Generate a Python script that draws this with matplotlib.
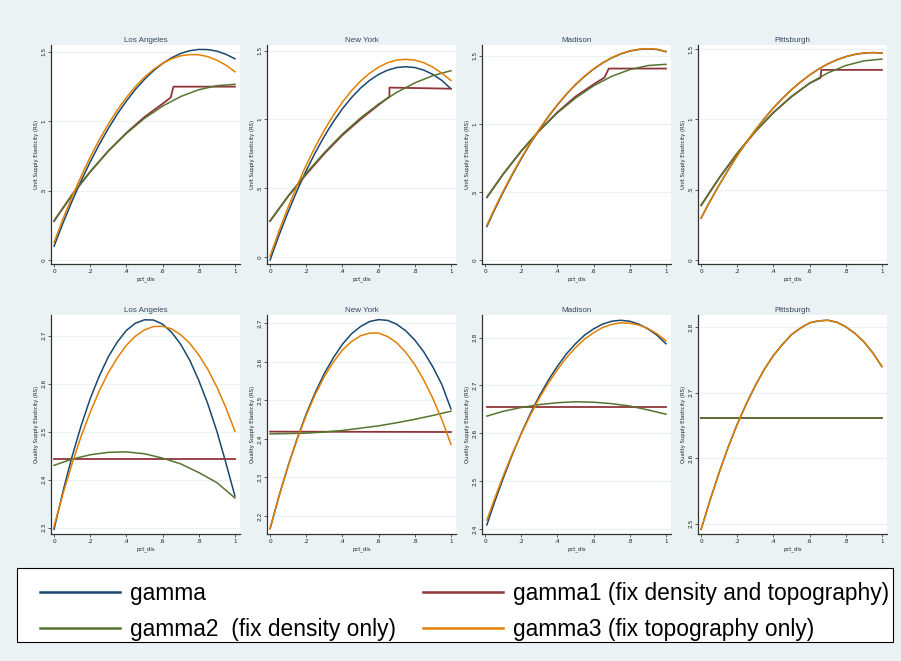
import numpy as np
import matplotlib.pyplot as plt
from matplotlib.lines import Line2D
from matplotlib.patches import Rectangle

# pct_dis grids
x_pts = [0, .1, .2, .3, .4, .5, .6, .7, .8, .9, 1]
x_mad = [.01, .1, .2, .3, .4, .5, .6, .7, .8, .9, 1]
x_fine = [0, .05, .1, .15, .2, .25, .3, .35, .4, .45, .5,
          .55, .6, .65, .7, .75, .8, .85, .9, .95, 1]
x_fine_mad = [.01, .05, .1, .15, .2, .25, .3, .35, .4, .45, .5,
              .55, .6, .65, .7, .75, .8, .85, .9, .95, 1]

# ---- top row: Unit Supply Elasticity ----
la_u_gamma  = [0.100, 0.268, 0.425, 0.571, 0.707, 0.832, 0.947, 1.052, 1.145, 1.229, 1.301,
               1.363, 1.415, 1.456, 1.487, 1.507, 1.516, 1.515, 1.504, 1.481, 1.449]
la_u_gamma3 = [0.127, 0.298, 0.457, 0.604, 0.741, 0.865, 0.978, 1.080, 1.170, 1.249, 1.316,
               1.372, 1.416, 1.449, 1.470, 1.479, 1.478, 1.464, 1.439, 1.403, 1.355]
la_u_gamma2 = [0.283, 0.470, 0.637, 0.784, 0.911, 1.020, 1.108, 1.177, 1.226, 1.255, 1.265]
la_u_x1     = [0, .1, .2, .3, .4, .5, .6, .645, .66, .8, 1]
la_u_gamma1 = [0.28, 0.47, 0.635, 0.785, 0.915, 1.03, 1.125, 1.17, 1.248, 1.248, 1.248]

ny_u_gamma  = [-0.024, 0.158, 0.327, 0.483, 0.627, 0.758, 0.877, 0.983, 1.077, 1.158, 1.227,
               1.283, 1.327, 1.358, 1.377, 1.383, 1.377, 1.358, 1.327, 1.283, 1.222]
ny_u_gamma3 = [0.005, 0.190, 0.361, 0.520, 0.667, 0.801, 0.921, 1.030, 1.125, 1.208, 1.278,
               1.335, 1.380, 1.412, 1.431, 1.437, 1.431, 1.412, 1.380, 1.335, 1.283]
ny_u_gamma2 = [0.260, 0.442, 0.608, 0.758, 0.893, 1.010, 1.111, 1.196, 1.265, 1.318, 1.354]
ny_u_x1     = [0, .1, .2, .3, .4, .5, .6, .66, .66, 1]
ny_u_gamma1 = [0.26, 0.44, 0.60, 0.75, 0.885, 1.0, 1.105, 1.165, 1.231, 1.223]

md_u_gamma  = [0.246, 0.361, 0.497, 0.624, 0.743, 0.855, 0.957, 1.052, 1.139, 1.217, 1.287,
               1.348, 1.402, 1.447, 1.484, 1.513, 1.534, 1.546, 1.550, 1.546, 1.530]
md_u_gamma3 = [0.256, 0.370, 0.505, 0.631, 0.749, 0.860, 0.961, 1.055, 1.141, 1.219, 1.289,
               1.350, 1.404, 1.449, 1.486, 1.515, 1.536, 1.548, 1.552, 1.548, 1.532]
md_u_gamma2 = [0.460, 0.630, 0.800, 0.950, 1.080, 1.189, 1.279, 1.349, 1.398, 1.428, 1.437]
md_u_x1     = [.01, .1, .2, .3, .4, .5, .6, .66, .684, 1]
md_u_gamma1 = [0.46, 0.63, 0.80, 0.95, 1.085, 1.20, 1.29, 1.34, 1.406, 1.406]

pt_u_gamma  = [0.298, 0.419, 0.533, 0.640, 0.742, 0.836, 0.924, 1.006, 1.081, 1.149, 1.211,
               1.266, 1.315, 1.358, 1.394, 1.423, 1.446, 1.462, 1.472, 1.475, 1.472]
pt_u_gamma3 = pt_u_gamma
pt_u_gamma2 = [0.388, 0.583, 0.758, 0.914, 1.048, 1.162, 1.257, 1.330, 1.383, 1.416, 1.429]
pt_u_x1     = [0, .1, .2, .3, .4, .5, .6, .66, .665, 1]
pt_u_gamma1 = [0.388, 0.583, 0.758, 0.914, 1.048, 1.162, 1.257, 1.295, 1.352, 1.352]

# ---- bottom row: Quality Supply Elasticity ----
la_q_gamma  = [2.297, 2.377, 2.449, 2.513, 2.569, 2.616, 2.656, 2.687, 2.711, 2.726, 2.733,
               2.7325, 2.724, 2.707, 2.682, 2.649, 2.607, 2.558, 2.501, 2.435, 2.366]
la_q_gamma3 = [2.303, 2.372, 2.434, 2.491, 2.541, 2.585, 2.623, 2.654, 2.680, 2.699, 2.712,
               2.719, 2.7195, 2.714, 2.702, 2.684, 2.660, 2.630, 2.593, 2.550, 2.501]
la_q_gamma2 = [2.430, 2.443, 2.452, 2.457, 2.458, 2.454, 2.445, 2.433, 2.415, 2.394, 2.362]
la_q_gamma1 = [2.444, 2.444]

ny_q_gamma  = [2.167, 2.2525, 2.3305, 2.401, 2.465, 2.521, 2.570, 2.611, 2.646, 2.673, 2.692,
               2.705, 2.710, 2.708, 2.698, 2.681, 2.657, 2.626, 2.587, 2.541, 2.478]
ny_q_gamma3 = [2.167, 2.252, 2.330, 2.400, 2.4615, 2.516, 2.562, 2.600, 2.631, 2.653, 2.668,
               2.675, 2.675, 2.666, 2.650, 2.625, 2.593, 2.553, 2.505, 2.450, 2.386]
ny_q_gamma2 = [2.413, 2.414, 2.415, 2.418, 2.422, 2.428, 2.434, 2.442, 2.451, 2.461, 2.472]
ny_q_gamma1 = [2.419, 2.418]

md_q_gamma  = [2.409, 2.454, 2.506, 2.555, 2.600, 2.641, 2.678, 2.711, 2.740, 2.766, 2.787,
               2.805, 2.818, 2.828, 2.834, 2.836, 2.834, 2.828, 2.818, 2.805, 2.787]
md_q_gamma3 = [2.419, 2.461, 2.511, 2.557, 2.599, 2.638, 2.6735, 2.705, 2.733, 2.758, 2.779,
               2.7965, 2.810, 2.821, 2.8275, 2.8307, 2.830, 2.826, 2.819, 2.808, 2.793]
md_q_gamma2 = [2.636, 2.646, 2.654, 2.660, 2.664, 2.666, 2.665, 2.662, 2.657, 2.649, 2.640]
md_q_gamma1 = [2.656, 2.656]

pt_q_gamma  = [2.491, 2.536, 2.578, 2.617, 2.652, 2.683, 2.711, 2.736, 2.757, 2.774, 2.789,
               2.799, 2.807, 2.810, 2.811, 2.808, 2.801, 2.791, 2.778, 2.761, 2.740]
pt_q_gamma3 = pt_q_gamma
pt_q_gamma2 = [2.661, 2.661]
pt_q_gamma1 = [2.661, 2.661]

cities = ['Los Angeles', 'New York', 'Madison', 'Pittsburgh']
labels = ['gamma', 'gamma1 (fix density and topography)',
          'gamma2  (fix density only)', 'gamma3 (fix topography only)']

C_NAVY = '#1a476f'
C_MAROON = '#90353b'
C_GREEN = '#55752f'
C_ORANGE = '#e37e00'
BG = '#eaf2f3'

W, H = 901, 661
fig = plt.figure(figsize=(W / 100, H / 100), dpi=100, facecolor=BG)

def px_axes(l, t, r, b):
    return fig.add_axes([l / W, 1 - b / H, (r - l) / W, (b - t) / H])

lefts = [51, 267, 482, 698]
width = 189

top_panels = [
    (x_fine, la_u_gamma, la_u_x1, la_u_gamma1, x_pts, la_u_gamma2, x_fine, la_u_gamma3, (-0.029, 1.548)),
    (x_fine, ny_u_gamma, ny_u_x1, ny_u_gamma1, x_pts, ny_u_gamma2, x_fine, ny_u_gamma3, (-0.053, 1.541)),
    (x_fine_mad, md_u_gamma, md_u_x1, md_u_gamma1, x_mad, md_u_gamma2, x_fine_mad, md_u_gamma3, (-0.03, 1.579)),
    (x_fine, pt_u_gamma, pt_u_x1, pt_u_gamma1, x_pts, pt_u_gamma2, x_fine, pt_u_gamma3, (-0.029, 1.529)),
]
bot_panels = [
    (x_fine, la_q_gamma, [0, 1], la_q_gamma1, x_pts, la_q_gamma2, x_fine, la_q_gamma3, (2.287, 2.743)),
    (x_fine, ny_q_gamma, [0, 1], ny_q_gamma1, x_pts, ny_q_gamma2, x_fine, ny_q_gamma3, (2.153, 2.722)),
    (x_fine_mad, md_q_gamma, [.01, 1], md_q_gamma1, x_mad, md_q_gamma2, x_fine_mad, md_q_gamma3, (2.390, 2.847)),
    (x_fine, pt_q_gamma, [0, 1], pt_q_gamma1, [0, 1], pt_q_gamma2, x_fine, pt_q_gamma3, (2.484, 2.819)),
]
top_ticks = [0, .5, 1, 1.5]
top_ticklabels = ['0', '.5', '1', '1.5']
bot_ticks = [[2.3, 2.4, 2.5, 2.6, 2.7], [2.2, 2.3, 2.4, 2.5, 2.6, 2.7],
             [2.4, 2.5, 2.6, 2.7, 2.8], [2.5, 2.6, 2.7, 2.8]]

def draw(ax, p, title, yt, ytl, ylab):
    x0, g0, x1, g1, x2, g2, x3, g3, yl = p
    ax.set_facecolor('white')
    ax.plot(x0, g0, color=C_NAVY, lw=1.1)
    ax.plot(x1, g1, color=C_MAROON, lw=1.3)
    ax.plot(x2, g2, color=C_GREEN, lw=1.1)
    ax.plot(x3, g3, color=C_ORANGE, lw=1.1)
    ax.set_xlim(-0.017, 1.028)
    ax.set_ylim(*yl)
    ax.set_yticks(yt)
    ax.set_yticklabels(ytl, rotation=90, va='center')
    ax.set_xticks([0, .2, .4, .6, .8, 1])
    ax.set_xticklabels(['0', '.2', '.4', '.6', '.8', '1'])
    ax.grid(axis='y', color=BG, lw=0.9)
    ax.set_axisbelow(True)
    for s in ['top', 'right']:
        ax.spines[s].set_visible(False)
    for s in ['left', 'bottom']:
        ax.spines[s].set_color('#333333')
        ax.spines[s].set_linewidth(0.9)
    ax.tick_params(labelsize=4.2, length=2, width=0.5, pad=1.5, colors='#222222')
    ax.set_title(title, fontsize=5.8, color='#3a4560', pad=2.5, family='Liberation Sans')
    ax.set_xlabel('pct_dis', fontsize=3.8, labelpad=1.5, color='#222222')
    ax.set_ylabel(ylab, fontsize=3.8, labelpad=1.5, color='#222222')

for i in range(4):
    ax = px_axes(lefts[i], 45, lefts[i] + width, 264)
    draw(ax, top_panels[i], cities[i], top_ticks, top_ticklabels,
         'Unit Supply Elasticity (RS)')
for i in range(4):
    ax = px_axes(lefts[i], 315, lefts[i] + width, 534)
    yt = bot_ticks[i]
    draw(ax, bot_panels[i], cities[i], yt, ['%g' % v for v in yt],
         'Quality Supply Elasticity (RS)')

# legend box
fig.patches.append(Rectangle((17 / W, 1 - 642 / H), (893 - 17) / W, (642 - 568) / H,
                             transform=fig.transFigure, facecolor='white',
                             edgecolor='black', lw=0.8, zorder=0))
handles = [Line2D([], [], color=c, lw=1.8) for c in [C_NAVY, C_MAROON, C_GREEN, C_ORANGE]]
order = [0, 2, 1, 3]
fig.legend([handles[k] for k in order], [labels[k] for k in order],
           loc='upper left', bbox_to_anchor=(40 / W, 1 - 582 / H), ncol=2,
           frameon=False, borderpad=0, borderaxespad=0,
           handlelength=3.5, handletextpad=0.45,
           columnspacing=1.2, labelspacing=0.55,
           prop={'family': ['Liberation Sans', 'DejaVu Sans'], 'size': 16.4})

plt.savefig('out.png', dpi=100, facecolor=BG)
